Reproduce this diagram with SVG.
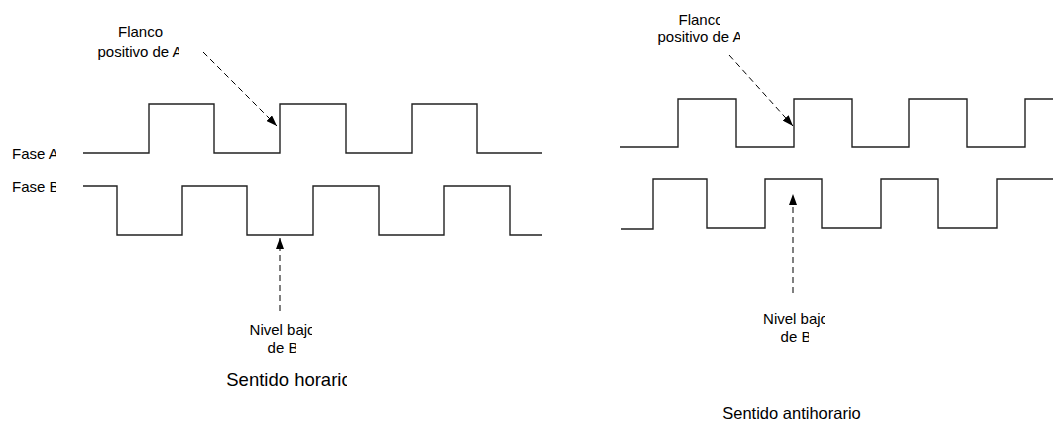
<svg xmlns="http://www.w3.org/2000/svg" width="1053" height="423" viewBox="0 0 1053 423">
<style>
.wave{fill:none;stroke:#222;stroke-width:1.4;stroke-linejoin:miter}
.dash{fill:none;stroke:#000;stroke-width:1;stroke-dasharray:6,4}
.t{font-family:"Liberation Sans",Arial,sans-serif;font-size:15px;fill:#000}
.c{text-anchor:middle}
.big{font-size:18.5px}
.mid{font-size:16.5px}
</style>
<defs>
<marker id="ah" markerUnits="userSpaceOnUse" markerWidth="11" markerHeight="8" refX="11" refY="4" orient="auto">
<path d="M0,0 L11,4 L0,8 z" fill="#000"/>
</marker>
<clipPath id="cFA" clipPathUnits="userSpaceOnUse"><rect x="0" y="130" width="56" height="70"/></clipPath>
<clipPath id="cPL" clipPathUnits="userSpaceOnUse"><rect x="80" y="40" width="99" height="25"/></clipPath>
<clipPath id="cNL" clipPathUnits="userSpaceOnUse"><rect x="240" y="318" width="72" height="20"/></clipPath>
<clipPath id="cDL" clipPathUnits="userSpaceOnUse"><rect x="240" y="338" width="56" height="20"/></clipPath>
<clipPath id="cSL" clipPathUnits="userSpaceOnUse"><rect x="200" y="362" width="147" height="32"/></clipPath>
<clipPath id="cFR" clipPathUnits="userSpaceOnUse"><rect x="660" y="5" width="60" height="22"/></clipPath>
<clipPath id="cPR" clipPathUnits="userSpaceOnUse"><rect x="640" y="27" width="100" height="20"/></clipPath>
<clipPath id="cNR" clipPathUnits="userSpaceOnUse"><rect x="750" y="307" width="75" height="20"/></clipPath>
<clipPath id="cDR" clipPathUnits="userSpaceOnUse"><rect x="770" y="327" width="39" height="20"/></clipPath>
</defs>

<g id="left-diagram">
<g id="phaseA-left">
<path class="wave" d="M83,153 H149 V104 H214 V153 H280 V104 H346 V153 H412 V104 H477 V153 H542"/>
<text class="t" x="12" y="158.5" clip-path="url(#cFA)">Fase A</text>
</g>
<g id="phaseB-left">
<path class="wave" d="M83,186 H117 V235 H182 V186 H247 V235 H313 V186 H379 V235 H444 V186 H510 V235 H542"/>
<text class="t" x="12" y="191.5" clip-path="url(#cFA)">Fase B</text>
</g>
<g id="label-flanco-left">
<text class="t c" x="140.5" y="37">Flanco</text>
<text class="t c" x="140" y="57" clip-path="url(#cPL)">positivo de A</text>
</g>
<g id="label-nivel-left">
<text class="t c" x="282.5" y="335" clip-path="url(#cNL)">Nivel bajo</text>
<text class="t c" x="283" y="353" clip-path="url(#cDL)">de B</text>
</g>
<g id="title-left">
<text class="t c big" x="289" y="385.5" clip-path="url(#cSL)">Sentido horario</text>
</g>
</g>

<g id="right-diagram">
<g id="phaseA-right">
<path class="wave" d="M620,147 H678 V99 H736 V147 H794 V99 H852 V147 H909 V99 H967 V147 H1025 V99 H1053"/>
</g>
<g id="phaseB-right">
<path class="wave" d="M621,229 H653 V179 H707 V228 H765 V179 H822 V228 H881 V179 H938 V228 H997 V179 H1053"/>
</g>
<g id="label-flanco-right">
<text class="t c" x="701" y="25" clip-path="url(#cFR)">Flanco</text>
<text class="t c" x="700" y="42" clip-path="url(#cPR)">positivo de A</text>
</g>
<g id="label-nivel-right">
<text class="t c" x="796" y="324" clip-path="url(#cNR)">Nivel bajo</text>
<text class="t c" x="796" y="342" clip-path="url(#cDR)">de B</text>
</g>
<g id="title-right">
<text class="t c mid" x="791.5" y="418.5">Sentido antihorario</text>
</g>
</g>

<g id="connectors">
<line class="dash" x1="203" y1="52" x2="277" y2="126" marker-end="url(#ah)"/>
<line class="dash" x1="280" y1="311" x2="280" y2="238" marker-end="url(#ah)"/>
<line class="dash" x1="729" y1="55" x2="793" y2="126" marker-end="url(#ah)"/>
<line class="dash" x1="793" y1="293" x2="793" y2="194" marker-end="url(#ah)"/>
</g>
</svg>
